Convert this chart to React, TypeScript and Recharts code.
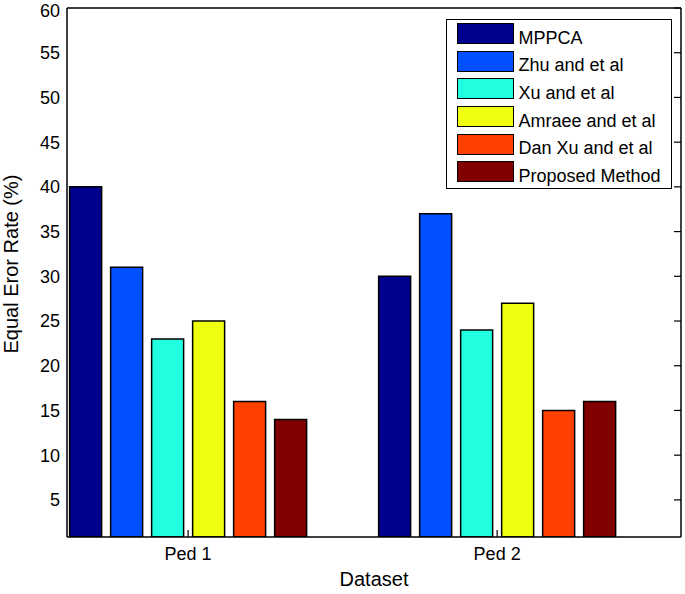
import React from 'react';
import { BarChart, Bar, XAxis, YAxis, Legend } from 'recharts';

const categories = ['Ped 1', 'Ped 2'];
const positions = [1, 2];
const mppca = [40, 30];
const zhu = [31, 37];
const xu = [23, 24];
const amraee = [25, 27];
const danXu = [16, 15];
const proposed = [14, 16];
const yTicks = [5, 10, 15, 20, 25, 30, 35, 40, 45, 50, 55, 60];

const FONT = '"Liberation Sans", Arial, Helvetica, sans-serif';

const series = [
  { key: 'MPPCA', values: mppca, color: '#00008f' },
  { key: 'Zhu and et al', values: zhu, color: '#0050ff' },
  { key: 'Xu and et al', values: xu, color: '#20ffdf' },
  { key: 'Amraee and et al', values: amraee, color: '#efff10' },
  { key: 'Dan Xu and et al', values: danXu, color: '#ff4000' },
  { key: 'Proposed Method', values: proposed, color: '#800000' },
];

const data = categories.map((name, i) => {
  const row: any = { name, x: positions[i] };
  series.forEach((s) => {
    row[s.key] = s.values[i];
  });
  return row;
});

const xDomain = [0.608, 2.595];
const yDomain = [0.85, 60];

// bottom tick: label below the axis, short tick line pointing into the plot
const BottomTick = (props: any) => {
  const { x, y, payload } = props;
  const idx = positions.indexOf(payload.value);
  return (
    <g>
      <line x1={x} x2={x} y1={y} y2={y - 7} stroke="#000" strokeWidth={1.2} />
      <text x={x} y={y + 23} textAnchor="middle" fontSize={18} fill="#000" fontFamily={FONT}>
        {categories[idx]}
      </text>
    </g>
  );
};

const EmptyTick = () => <g />;

const renderXLabel = (props: any) => {
  const vb = props.viewBox;
  return (
    <text x={vb.x + vb.width / 2} y={586} textAnchor="middle" fontSize={20} fill="#000" fontFamily={FONT}>
      Dataset
    </text>
  );
};

const renderYLabel = () => (
  <text transform="translate(18, 264) rotate(-90)" textAnchor="middle" fontSize={20} fill="#000" fontFamily={FONT}>
    Equal Eror Rate (%)
  </text>
);

// legend drawn in the series order, boxed like the MATLAB legend
const LegendBox = () => (
  <div
    style={{
      border: '1.5px solid #000',
      background: '#fff',
      padding: '0 0 2px 9.5px',
      boxSizing: 'border-box',
      width: 226,
      fontFamily: FONT,
    }}
  >
    {series.map((s) => (
      <div key={s.key} style={{ display: 'flex', alignItems: 'center', height: 27.6 }}>
        <span
          style={{
            display: 'inline-block',
            width: 57,
            height: 21,
            background: s.color,
            border: '1.5px solid #000',
            boxSizing: 'border-box',
            marginRight: 5,
          }}
        />
        <span style={{ fontSize: 18, color: '#000', position: 'relative', top: 4.5, whiteSpace: 'nowrap' }}>
          {s.key}
        </span>
      </div>
    ))}
  </div>
);

const App: React.FC = () => {
  return (
    <div style={{ position: 'absolute', left: 0, top: 0, width: 685, height: 594, background: '#fff' }}>
      <BarChart
        width={685}
        height={594}
        data={data}
        margin={{ top: 8, right: 4, left: 0, bottom: 0 }}
        barGap={9}
      >
        <XAxis
          dataKey="x"
          type="number"
          domain={xDomain}
          ticks={positions}
          allowDataOverflow
          height={57}
          tickSize={0}
          tickMargin={0}
          tick={BottomTick}
          axisLine={{ stroke: '#000', strokeWidth: 1.5 }}
          label={renderXLabel}
        />
        <XAxis
          xAxisId="top"
          orientation="top"
          type="number"
          domain={xDomain}
          ticks={positions}
          allowDataOverflow
          mirror
          height={1}
          tickSize={7}
          tick={EmptyTick}
          tickLine={{ stroke: '#000', strokeWidth: 1.2 }}
          axisLine={{ stroke: '#000', strokeWidth: 1.5 }}
        />
        <YAxis
          domain={yDomain}
          ticks={yTicks}
          allowDataOverflow
          width={67}
          tickSize={0}
          tickMargin={7}
          tick={{ fontSize: 18, fill: '#000', fontFamily: FONT }}
          axisLine={{ stroke: '#000', strokeWidth: 1.5 }}
          label={renderYLabel}
        />
        <YAxis
          yAxisId="right"
          orientation="right"
          domain={yDomain}
          ticks={yTicks}
          allowDataOverflow
          mirror
          width={1}
          tickSize={7}
          tick={EmptyTick}
          tickLine={{ stroke: '#000', strokeWidth: 1.2 }}
          axisLine={{ stroke: '#000', strokeWidth: 1.5 }}
        />
        <Legend
          layout="vertical"
          align="center"
          verticalAlign="middle"
          wrapperStyle={{ left: 446, top: 19, width: 226 }}
          content={LegendBox}
        />
        {series.map((s) => (
          <Bar
            key={s.key}
            dataKey={s.key}
            name={s.key}
            fill={s.color}
            stroke="#000"
            strokeWidth={1.5}
            barSize={32}
            isAnimationActive={false}
          />
        ))}
      </BarChart>
    </div>
  );
};

export default App;
